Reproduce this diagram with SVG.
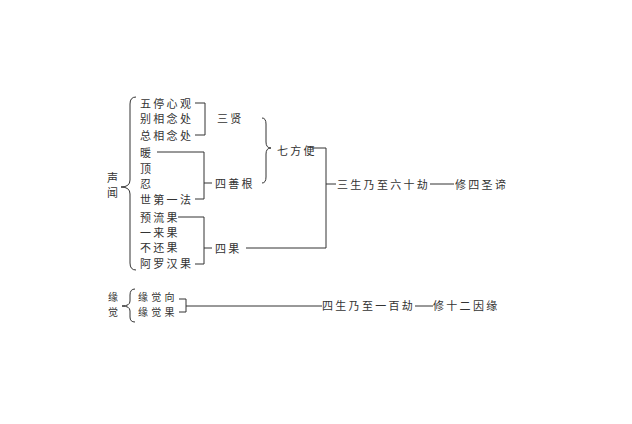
<svg xmlns="http://www.w3.org/2000/svg" width="632" height="424" viewBox="0 0 632 424">
<style>
text{font-family:"Noto Sans CJK SC","Noto Sans CJK TC",sans-serif;font-size:11px;fill:#333;letter-spacing:2.3px;dominant-baseline:central}
text.s{font-size:10px;letter-spacing:3.3px}
.c{fill:none;stroke:#333;stroke-width:1}
</style>
<rect width="632" height="424" fill="#fff"/>
<g id="connectors">
<path class="c" d="M136,97 Q130,97 130,104 L130,180 Q130,187 121,187 Q130,187 130,194 L130,263 Q130,270 136,270"/>
<path class="c" d="M195,103 H205 V135 H195"/>
<path class="c" d="M157,152 H204 V199 H195 M204,183 H212"/>
<path class="c" d="M178,217 H204 V264 H195 M204,248 H212"/>
<path class="c" d="M262,118 Q266,118 266,124 L266,142 Q266,148 271,148 Q266,148 266,154 L266,177 Q266,183 262,183"/>
<path class="c" d="M246,248 H326 V148 H312 M326,184 H336"/>
<path class="c" d="M430,184 H454"/>
<path class="c" d="M135,289 Q130,289 130,295 L130,301 Q130,306 122,306 Q130,306 130,311 L130,317 Q130,322 135,322"/>
<path class="c" d="M179,299 H186 V312 H179 M186,306 H322"/>
<path class="c" d="M415,306 H433"/>
</g>
<g id="shengwen"><text x="107" y="177">声</text><text x="107" y="192">闻</text></g>
<g id="n1"><text x="140" y="103">五停心观</text></g>
<g id="n2"><text x="140" y="118">别相念处</text></g>
<g id="n3"><text x="140" y="135">总相念处</text></g>
<g id="n4"><text x="140" y="152">暖</text></g>
<g id="n5"><text x="140" y="168">顶</text></g>
<g id="n6"><text x="140" y="183">忍</text></g>
<g id="n7"><text x="140" y="199">世第一法</text></g>
<g id="n8"><text x="140" y="217">预流果</text></g>
<g id="n9"><text x="140" y="232">一来果</text></g>
<g id="n10"><text x="140" y="247">不还果</text></g>
<g id="n11"><text x="140" y="263">阿罗汉果</text></g>
<g id="sanxian"><text x="217" y="118">三贤</text></g>
<g id="sishangen"><text x="215" y="183">四善根</text></g>
<g id="siguo"><text x="215" y="248">四果</text></g>
<g id="qifangbian"><text x="277" y="150">七方便</text></g>
<g id="result1"><text x="337" y="184">三生乃至六十劫</text><text x="455" y="184">修四圣谛</text></g>
<g id="yuanjue"><text class="s" x="108" y="296">缘</text><text class="s" x="108" y="311">觉</text></g>
<g id="yj1"><text class="s" x="138" y="296">缘觉向</text></g>
<g id="yj2"><text class="s" x="138" y="311">缘觉果</text></g>
<g id="result2"><text x="322" y="305">四生乃至一百劫</text><text x="433" y="305">修十二因缘</text></g>
</svg>
